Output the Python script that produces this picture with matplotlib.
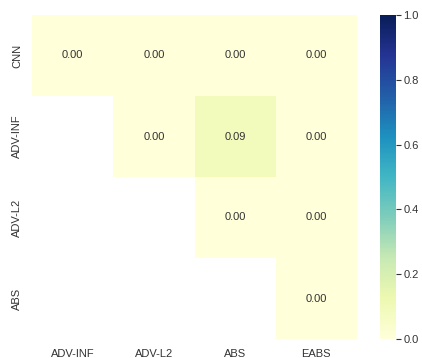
import numpy as np
import matplotlib
matplotlib.use("Agg")
import matplotlib.pyplot as plt
import seaborn as sns

rows = ["CNN", "ADV-INF", "ADV-L2", "ABS"]
cols = ["ADV-INF", "ADV-L2", "ABS", "EABS"]
values = np.array([
    [0.00, 0.00, 0.00, 0.00],
    [np.nan, 0.00, 0.09, 0.00],
    [np.nan, np.nan, 0.00, 0.00],
    [np.nan, np.nan, np.nan, 0.00],
])

sns.set_theme(style="white")
plt.rcParams['font.family'] = ['Liberation Sans', 'DejaVu Sans']
plt.rcParams['font.size'] = 8

fig = plt.figure(figsize=(4.22, 3.58), dpi=100)
W, H = 422, 358
ax = fig.add_axes([32 / W, 1 - 339 / H, 325 / W, 324 / H])
cax = fig.add_axes([379.5 / W, 1 - 339 / H, 16 / W, 324 / H])

mask = np.isnan(values)
sns.heatmap(values, mask=mask, annot=True, fmt=".2f", cmap="YlGnBu",
            vmin=0, vmax=1, ax=ax, cbar_ax=cax,
            xticklabels=cols, yticklabels=rows,
            annot_kws={"size": 8, "color": "#333333"})
ax.tick_params(axis="both", length=0, labelsize=8, colors="#333333", pad=7)
ax.set_yticklabels(rows, rotation=90, va="center")
ax.set_xticklabels(cols, rotation=0)
cax.tick_params(axis="y", right=True, length=3.5, width=0.8, color="#333333",
                labelsize=8, labelcolor="#333333", pad=2)
cax.set_yticks([0.0, 0.2, 0.4, 0.6, 0.8, 1.0])
for s in cax.spines.values():
    s.set_visible(False)

fig.savefig("out.png", dpi=100)
